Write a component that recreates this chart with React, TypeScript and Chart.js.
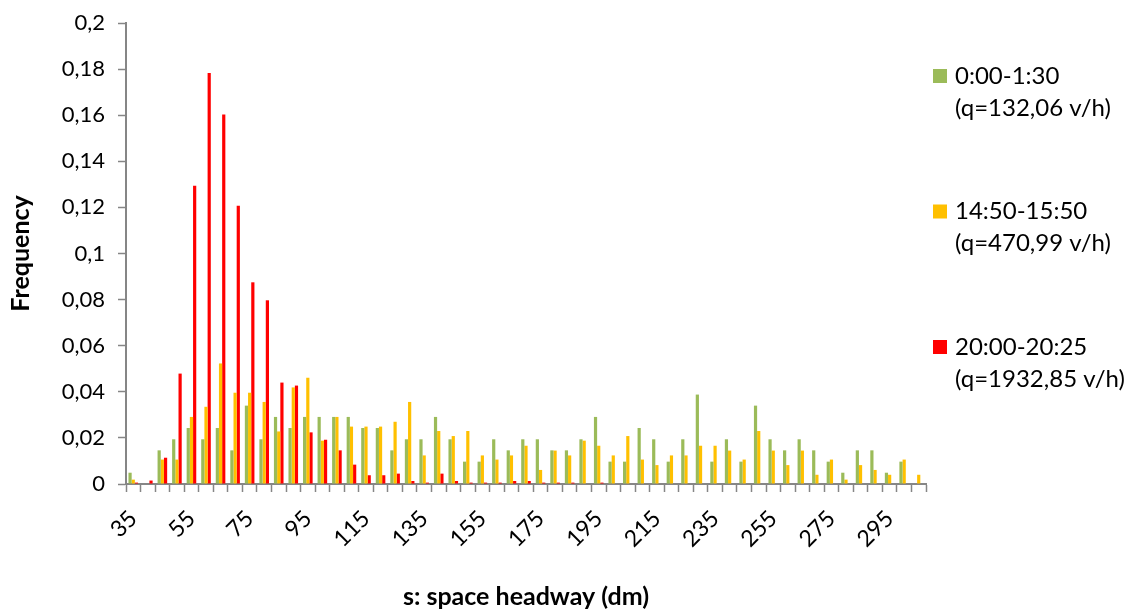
import React, { useEffect, useRef } from "react";
import { Chart, registerables } from "chart.js";

Chart.register(...registerables);

const categories = [
  "35", "40", "45", "50", "55", "60", "65", "70", "75", "80",
  "85", "90", "95", "100", "105", "110", "115", "120", "125", "130",
  "135", "140", "145", "150", "155", "160", "165", "170", "175", "180",
  "185", "190", "195", "200", "205", "210", "215", "220", "225", "230",
  "235", "240", "245", "250", "255", "260", "265", "270", "275", "280",
  "285", "290", "295", "300", "305",
];

const nightValues = [
  0.0049, 0, 0.0146, 0.0194, 0.0243, 0.0194, 0.0243, 0.0146, 0.034, 0.0194,
  0.0291, 0.0243, 0.0291, 0.0291, 0.0291, 0.0291, 0.0243, 0.0243, 0.0146, 0.0194,
  0.0194, 0.0291, 0.0194, 0.0097, 0.0097, 0.0194, 0.0146, 0.0194, 0.0194, 0.0146,
  0.0146, 0.0194, 0.0291, 0.0097, 0.0097, 0.0243, 0.0194, 0.0097, 0.0194, 0.0388,
  0.0097, 0.0194, 0.0097, 0.034, 0.0194, 0.0146, 0.0194, 0.0146, 0.0097, 0.0049,
  0.0146, 0.0146, 0.0049, 0.0097, 0,
];

const afternoonValues = [
  0.0019, 0, 0.0106, 0.0106, 0.0291, 0.0335, 0.0523, 0.0396, 0.0396, 0.0356,
  0.0228, 0.0419, 0.0461, 0.0188, 0.0291, 0.0249, 0.0249, 0.0249, 0.027, 0.0356,
  0.0124, 0.023, 0.0208, 0.023, 0.0124, 0.0106, 0.0124, 0.0166, 0.0061, 0.0145,
  0.0124, 0.0188, 0.0166, 0.0124, 0.0208, 0.0106, 0.0082, 0.0124, 0.0124, 0.0166,
  0.0166, 0.0145, 0.0106, 0.023, 0.0145, 0.0082, 0.0145, 0.004, 0.0106, 0.0019,
  0.0082, 0.0061, 0.004, 0.0106, 0.004,
];

const eveningValues = [
  0.0006, 0.0015, 0.0114, 0.0479, 0.1294, 0.1783, 0.1603, 0.1207, 0.0875, 0.0797,
  0.044, 0.0427, 0.0224, 0.0192, 0.0146, 0.0084, 0.0038, 0.0038, 0.0045, 0.0013,
  0.0006, 0.0045, 0.0013, 0.0006, 0.0006, 0.0006, 0.0013, 0.0013, 0.0006, 0.0006,
  0.0006, 0, 0.0006, 0, 0, 0, 0, 0, 0, 0,
  0, 0, 0, 0, 0, 0, 0, 0, 0, 0,
  0, 0, 0, 0, 0,
];

const seriesLabels = [
  ["0:00-1:30", "(q=132,06 v/h)"],
  ["14:50-15:50", "(q=470,99 v/h)"],
  ["20:00-20:25", "(q=1932,85 v/h)"],
];

const seriesColors = ["#9BBB59", "#FFC000", "#FF0000"];

const FONT = "Lato";

const sideLegend = {
  id: "sideLegend",
  afterDraw(chart: any) {
    const ctx = chart.ctx;
    ctx.save();
    ctx.font = `24px ${FONT}`;
    ctx.textBaseline = "middle";
    ctx.textAlign = "left";
    chart.data.datasets.forEach((ds: any, i: number) => {
      const top = 69 + i * 135.5;
      ctx.fillStyle = ds.backgroundColor;
      ctx.fillRect(933, top, 14, 14);
      ctx.fillStyle = "#000000";
      const lines = seriesLabels[i];
      ctx.fillText(lines[0], 955, top + 7);
      ctx.fillText(lines[1], 955, top + 39);
    });
    ctx.restore();
  },
};

export default function App() {
  const canvasRef = useRef<HTMLCanvasElement | null>(null);

  useEffect(() => {
    if (!canvasRef.current) return;
    const chart = new Chart(canvasRef.current, {
      type: "bar",
      data: {
        labels: categories,
        datasets: [
          { label: seriesLabels[0].join(" "), data: nightValues, backgroundColor: seriesColors[0] },
          { label: seriesLabels[1].join(" "), data: afternoonValues, backgroundColor: seriesColors[1] },
          { label: seriesLabels[2].join(" "), data: eveningValues, backgroundColor: seriesColors[2] },
        ],
      },
      options: {
        responsive: false,
        animation: false,
        layout: { padding: { top: 23, right: 214, left: 0, bottom: 0 } },
        datasets: { bar: { categoryPercentage: 0.66, barPercentage: 1.0 } },
        plugins: { legend: { display: false }, tooltip: { enabled: false } },
        scales: {
          x: {
            ticks: {
              autoSkip: false,
              maxRotation: 45,
              minRotation: 45,
              padding: 13,
              color: "#000000",
              font: { family: FONT, size: 23 },
              callback: (_v: any, i: number) => (i % 4 === 0 ? categories[i] : ""),
            },
            grid: { drawOnChartArea: false, tickLength: 8, color: "#868686", tickWidth: 1.5, offset: true },
            border: { color: "#868686", width: 2 },
            title: {
              display: true,
              text: "s: space headway (dm)",
              color: "#000000",
              font: { family: FONT, size: 25, weight: "bold", lineHeight: 1.0 },
              padding: { top: 0, bottom: 0 },
            },
            afterFit: (s: any) => {
              s.height = 125;
            },
          },
          y: {
            min: 0,
            max: 0.2,
            ticks: {
              stepSize: 0.02,
              padding: 13,
              color: "#000000",
              font: { family: FONT, size: 22 },
              callback: (v: any) => String(Math.round(Number(v) * 100) / 100).replace(".", ","),
            },
            grid: { drawOnChartArea: false, tickLength: 8, color: "#868686", tickWidth: 1.5 },
            border: { color: "#868686", width: 2 },
            title: {
              display: true,
              text: "Frequency",
              color: "#000000",
              font: { family: FONT, size: 25, weight: "bold", lineHeight: 1.0 },
              padding: { top: 8, bottom: 0 },
            },
            afterFit: (s: any) => {
              s.width = 126;
              s.paddingTop = 0;
              s.paddingBottom = 0;
            },
          },
        },
      },
      plugins: [sideLegend],
    });
    return () => chart.destroy();
  }, []);

  return (
    <div style={{ position: "absolute", left: 0, top: 0, width: 1140, height: 609, background: "#ffffff" }}>
      <canvas ref={canvasRef} width={1140} height={609} style={{ display: "block" }} />
    </div>
  );
}
